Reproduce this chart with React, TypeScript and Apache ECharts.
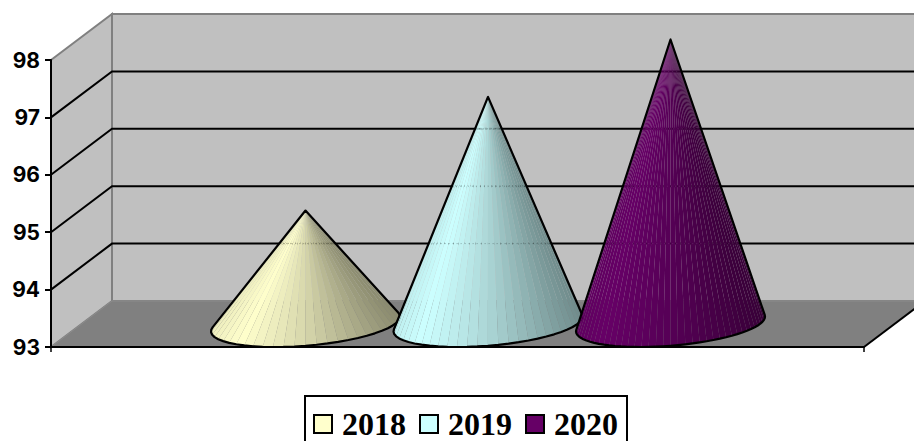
import React, { useEffect, useRef } from "react";
import * as echarts from "echarts";

const categories = [""];
const years = ["2018", "2019", "2020"];
const values = [95.02, 97, 98];
const yTicks = [93, 94, 95, 96, 97, 98];
const yMin = 93;
const yMax = 98;
const colors: [number, number, number][] = [
  [255, 255, 204],
  [204, 255, 255],
  [102, 0, 102],
];
const stripCounts = [30, 30, 42];

const DX = 61;
const DY = -46;
const CLUSTER_STEP = 0.2245;
const RADIUS = 0.11;
const APEX_DROP = 2.5;

const shadeStops: [number, number][] = [
  [-1, 0.94],
  [-0.72, 1],
  [0, 0.84],
  [1, 0.55],
];

function shade(u: number) {
  for (let i = 1; i < shadeStops.length; i++) {
    if (u <= shadeStops[i][0]) {
      const [a, fa] = shadeStops[i - 1];
      const [b, fb] = shadeStops[i];
      return fa + ((fb - fa) * (u - a)) / (b - a);
    }
  }
  return shadeStops[shadeStops.length - 1][1];
}

function rgb(c: number[], f: number) {
  return `rgb(${Math.round(c[0] * f)},${Math.round(c[1] * f)},${Math.round(c[2] * f)})`;
}

function renderWalls(_p: any, api: any) {
  const band = api.size([1, 0])[0];
  const a = api.coord([0, yMin]);
  const left = a[0] - band / 2;
  const right = a[0] + band / 2;
  const bottom = a[1];
  const top = api.coord([0, yMax])[1];
  const wallStroke = { stroke: "#808080", lineWidth: 2 };
  const children: any[] = [
    {
      type: "polygon",
      shape: { points: [[left, top], [left + DX, top + DY], [left + DX, bottom + DY], [left, bottom]] },
      style: { fill: "#c0c0c0", ...wallStroke },
    },
    {
      type: "polygon",
      shape: { points: [[left + DX, top + DY], [right + DX, top + DY], [right + DX, bottom + DY], [left + DX, bottom + DY]] },
      style: { fill: "#c0c0c0", ...wallStroke },
    },
    {
      type: "polygon",
      shape: { points: [[left, bottom], [left + DX, bottom + DY], [right + DX, bottom + DY], [right, bottom]] },
      style: { fill: "#808080", stroke: "#8c8c8c", lineWidth: 1 },
    },
    {
      type: "line",
      shape: { x1: right, y1: bottom, x2: right + DX, y2: bottom + DY },
      style: { stroke: "#000", lineWidth: 2 },
    },
  ];
  yTicks.slice(1, -1).forEach((v) => {
    const y = api.coord([0, v])[1];
    children.push({
      type: "polyline",
      shape: { points: [[left, y], [left + DX, y + DY], [right + DX, y + DY]] },
      style: { stroke: "#000", lineWidth: 2, fill: "none" },
    });
  });
  return { type: "group", children };
}

function renderCone(index: number) {
  return (_p: any, api: any) => {
    const band = api.size([1, 0])[0];
    const value = api.value(1);
    const anchor = api.coord([0, value]);
    const floor = api.coord([0, yMin]);
    const off = (index - 1) * band * CLUSTER_STEP;
    const cx = anchor[0] + off + DX / 2;
    const cy = floor[1] + DY / 2;
    const r = band * RADIUS;
    const apex = [cx, anchor[1] + DY / 2 + APEX_DROP];
    const pt = (t: number) => [
      cx + r * Math.cos(t) + (DX / 2) * Math.sin(t),
      cy + (DY / 2) * Math.sin(t),
    ];

    let tR = 0;
    let tL = -Math.PI;
    let best = -Infinity;
    let worst = Infinity;
    for (let i = 0; i <= 1440; i++) {
      const t = -1.5 * Math.PI + (2 * Math.PI * i) / 1440;
      const p = pt(t);
      const ang = Math.atan2(p[0] - apex[0], p[1] - apex[1]);
      if (ang > best) { best = ang; tR = t; }
      if (ang < worst) { worst = ang; tL = t; }
    }
    while (tR < -Math.PI / 2) tR += 2 * Math.PI;
    while (tR > Math.PI / 2) tR -= 2 * Math.PI;
    while (tL > -Math.PI / 2) tL -= 2 * Math.PI;
    while (tL < -1.5 * Math.PI) tL += 2 * Math.PI;

    const n = stripCounts[index];
    const children: any[] = [];
    const arc: number[][] = [];
    for (let i = 0; i <= n; i++) {
      arc.push(pt(tL + ((tR - tL) * i) / n));
    }
    const minX = pt(tL)[0];
    const maxX = pt(tR)[0];
    for (let i = 0; i < n; i++) {
      const mx = (arc[i][0] + arc[i + 1][0]) / 2;
      const u = ((mx - minX) / (maxX - minX)) * 2 - 1;
      children.push({
        type: "polygon",
        shape: { points: [apex, arc[i], arc[i + 1]] },
        style: { fill: rgb(colors[index], shade(u)) },
      });
    }

    const L = pt(tL);
    const R = pt(tR);
    yTicks.slice(1).forEach((v) => {
      const y = api.coord([0, v])[1] + DY;
      if (y <= apex[1] + 2) return;
      const xl = apex[0] + ((L[0] - apex[0]) * (y - apex[1])) / (L[1] - apex[1]);
      const xr = apex[0] + ((R[0] - apex[0]) * (y - apex[1])) / (R[1] - apex[1]);
      children.push({
        type: "line",
        shape: { x1: xl, y1: y, x2: xr, y2: y },
        style: {
          stroke: index === 2 ? "rgba(255,255,255,0.12)" : "rgba(0,0,0,0.3)",
          lineWidth: 1,
          lineDash: [1, 3],
        },
      });
    });

    children.push({
      type: "polygon",
      shape: { points: [apex, ...arc] },
      style: { fill: "none", stroke: "#000", lineWidth: 2.2, lineJoin: "round" },
    });
    return { type: "group", children };
  };
}

export default function App() {
  const ref = useRef<HTMLDivElement>(null);
  useEffect(() => {
    const chart = echarts.init(ref.current!, undefined, { renderer: "svg" });
    chart.setOption({
      animation: false,
      backgroundColor: "#ffffff",
      grid: { left: 51, right: 50, top: 60, bottom: 94, containLabel: false },
      xAxis: {
        type: "category",
        data: categories,
        z: 1,
        axisLine: { onZero: false, lineStyle: { color: "#000", width: 2 } },
        axisTick: { show: true, length: 5, lineStyle: { color: "#000", width: 1.5 } },
        axisLabel: { show: false },
        splitLine: { show: false },
      },
      yAxis: {
        type: "value",
        min: yMin,
        max: yMax,
        interval: 1,
        z: 1,
        axisLine: { show: true, lineStyle: { color: "#000", width: 2 } },
        axisTick: { show: true, length: 6, lineStyle: { color: "#000", width: 2 } },
        axisLabel: {
          margin: 11,
          color: "#000",
          fontFamily: "Inter",
          fontWeight: "bold",
          fontSize: 21,
        },
        splitLine: { show: false },
      },
      legend: {
        data: years,
        left: 305,
        top: 396,
        orient: "horizontal",
        padding: [12, 9, 12, 8],
        itemGap: 13,
        itemWidth: 18,
        itemHeight: 18,
        icon: "rect",
        borderColor: "#000",
        borderWidth: 2,
        itemStyle: { borderColor: "#000", borderWidth: 2 },
        textStyle: {
          color: "#000",
          fontFamily: "Liberation Serif",
          fontWeight: "bold",
          fontSize: 32,
          padding: [0, 0, 0, 5],
        },
      },
      series: [
        {
          type: "custom",
          name: "walls",
          silent: true,
          z: -1,
          renderItem: renderWalls,
          data: [[0, yMin]],
        },
        ...years.map((name, i) => ({
          type: "custom",
          name,
          z: 2 + i,
          silent: true,
          itemStyle: { color: rgb(colors[i], 1) },
          renderItem: renderCone(i),
          encode: { x: 0, y: 1 },
          data: [[0, values[i]]],
        })),
      ],
    });
    return () => chart.dispose();
  }, []);
  return (
    <div
      ref={ref}
      style={{ position: "absolute", left: 0, top: 0, width: 914, height: 441, overflow: "hidden" }}
    />
  );
}
